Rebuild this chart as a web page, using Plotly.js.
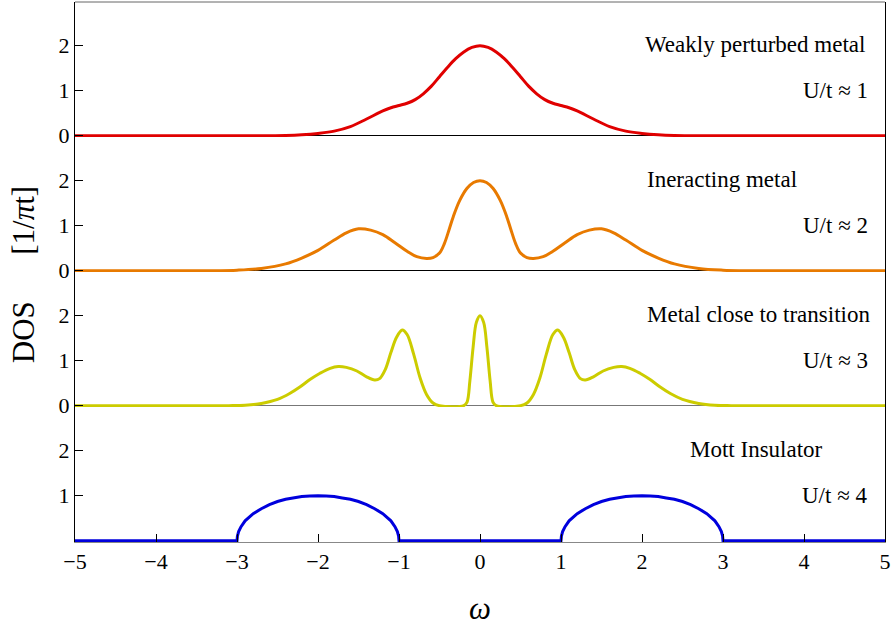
<!DOCTYPE html>
<html>
<head>
<meta charset="utf-8">
<script src="https://cdn.plot.ly/plotly-3.0.1.min.js"></script>
<style>html,body{margin:0;padding:0;background:#fff;}#chart{width:891px;height:626px;}</style>
</head>
<body>
<div id="chart"></div>
<script>
// ---- data ----
const xTicks = [-5, -4, -3, -2, -1, 0, 1, 2, 3, 4, 5];

// U/t ~ 1 : weakly perturbed metal (red)
const omegaRed = [-5, -2.6, -2.4, -2.2, -2.0, -1.8, -1.6, -1.4, -1.2, -1.1, -1.0, -0.9, -0.8, -0.7, -0.6, -0.5, -0.4, -0.3, -0.2, -0.1, 0,
                  0.1, 0.2, 0.3, 0.4, 0.5, 0.6, 0.7, 0.8, 0.9, 1.0, 1.1, 1.2, 1.4, 1.6, 1.8, 2.0, 2.2, 2.4, 2.6, 5];
const dosRed   = [0, 0, 0.005, 0.02, 0.05, 0.1, 0.2, 0.37, 0.55, 0.62, 0.67, 0.72, 0.80, 0.93, 1.1, 1.31, 1.52, 1.71, 1.86, 1.96, 2.0,
                  1.96, 1.86, 1.71, 1.52, 1.31, 1.1, 0.93, 0.80, 0.72, 0.67, 0.62, 0.55, 0.37, 0.2, 0.1, 0.05, 0.02, 0.005, 0, 0];

// U/t ~ 2 : interacting metal (orange)
const omegaOrange = [-5, -3.2, -3.0, -2.7, -2.4, -2.2, -2.0, -1.8, -1.65, -1.5, -1.35, -1.2, -1.05, -0.9, -0.78, -0.66, -0.58, -0.5, -0.44, -0.38, -0.33, -0.25, -0.16, -0.08, 0,
                     0.08, 0.16, 0.25, 0.33, 0.38, 0.44, 0.5, 0.58, 0.66, 0.78, 0.9, 1.05, 1.2, 1.35, 1.5, 1.65, 1.8, 2.0, 2.2, 2.4, 2.7, 3.0, 3.2, 5];
const dosOrange   = [0, 0, 0.01, 0.05, 0.15, 0.28, 0.45, 0.68, 0.84, 0.93, 0.9, 0.8, 0.62, 0.43, 0.31, 0.27, 0.29, 0.39, 0.6, 0.92, 1.2, 1.56, 1.83, 1.96, 2.0,
                     1.96, 1.83, 1.56, 1.2, 0.92, 0.6, 0.39, 0.29, 0.27, 0.31, 0.43, 0.62, 0.8, 0.9, 0.93, 0.84, 0.68, 0.45, 0.28, 0.15, 0.05, 0.01, 0, 0];

// U/t ~ 3 : metal close to transition (yellow)
const omegaYellow = [-5, -3.1, -2.9, -2.7, -2.5, -2.35, -2.22, -2.1, -1.975, -1.85, -1.75, -1.65, -1.52, -1.4, -1.3, -1.24, -1.17, -1.1, -1.03, -0.96, -0.9, -0.82, -0.74, -0.66, -0.58, -0.5, -0.2, -0.16, -0.125, -0.085, -0.045, 0,
                     0.045, 0.085, 0.125, 0.16, 0.2, 0.5, 0.58, 0.66, 0.74, 0.82, 0.9, 0.96, 1.03, 1.1, 1.17, 1.24, 1.3, 1.4, 1.52, 1.65, 1.75, 1.85, 1.975, 2.1, 2.22, 2.35, 2.5, 2.7, 2.9, 3.1, 5];
const dosYellow   = [0, 0, 0.01, 0.05, 0.14, 0.27, 0.42, 0.58, 0.72, 0.83, 0.87, 0.85, 0.77, 0.64, 0.57, 0.6, 0.8, 1.18, 1.52, 1.68, 1.58, 1.15, 0.62, 0.25, 0.06, 0, 0, 0.08, 0.55, 1.3, 1.85, 2.0,
                     1.85, 1.3, 0.55, 0.08, 0, 0, 0.06, 0.25, 0.62, 1.15, 1.58, 1.68, 1.52, 1.18, 0.8, 0.6, 0.57, 0.64, 0.77, 0.85, 0.87, 0.83, 0.72, 0.58, 0.42, 0.27, 0.14, 0.05, 0.01, 0, 0];

// U/t ~ 4 : Mott insulator (blue)
const omegaBlue = [-5, -3, -2.995, -2.98, -2.95, -2.9, -2.8, -2.7, -2.6, -2.5, -2.4, -2.3, -2.2, -2.1, -2,
                   -1.9, -1.8, -1.7, -1.6, -1.5, -1.4, -1.3, -1.2, -1.1, -1.05, -1.02, -1.005, -1,
                   1, 1.005, 1.02, 1.05, 1.1, 1.2, 1.3, 1.4, 1.5, 1.6, 1.7, 1.8, 1.9, 2,
                   2.1, 2.2, 2.3, 2.4, 2.5, 2.6, 2.7, 2.8, 2.9, 2.95, 2.98, 2.995, 3, 5];
const dosBlue   = [0, 0, 0.1, 0.2, 0.31, 0.44, 0.6, 0.71, 0.8, 0.87, 0.92, 0.95, 0.98, 0.99, 1,
                   0.99, 0.98, 0.95, 0.92, 0.87, 0.8, 0.71, 0.6, 0.44, 0.31, 0.2, 0.1, 0,
                   0, 0.1, 0.2, 0.31, 0.44, 0.6, 0.71, 0.8, 0.87, 0.92, 0.95, 0.98, 0.99, 1,
                   0.99, 0.98, 0.95, 0.92, 0.87, 0.8, 0.71, 0.6, 0.44, 0.31, 0.2, 0.1, 0, 0];

const panelTitles = ["Mott Insulator", "Metal close to transition", "Ineracting metal", "Weakly perturbed metal"];
const panelU      = ["U/t \u2248 4", "U/t \u2248 3", "U/t \u2248 2", "U/t \u2248 1"];
const titleX      = [3.41, 3.44, 2.99, 3.395];
const colors      = ["#0000dd", "#cccc00", "#e87a00", "#e00000"];
const yTickSets   = [[1, 2], [0, 1, 2], [0, 1, 2], [0, 1, 2]];
const zeroColors  = ["#888888", "#777777", "#000000", "#000000"];

// ---- figure ----
const FONT = '"Liberation Serif", "Times New Roman", serif';
const series = [[omegaBlue, dosBlue, 'linear'], [omegaYellow, dosYellow, 'spline'],
                [omegaOrange, dosOrange, 'spline'], [omegaRed, dosRed, 'spline']];
const yNames = ['y', 'y2', 'y3', 'y4'];
const axKeys = ['yaxis', 'yaxis2', 'yaxis3', 'yaxis4'];

const traces = series.map((s, i) => ({
  x: s[0], y: s[1], xaxis: 'x', yaxis: yNames[i], type: 'scatter', mode: 'lines',
  line: {color: colors[i], width: 3, shape: s[2], smoothing: 1},
  hoverinfo: 'skip', showlegend: false
}));

const layout = {
  width: 891, height: 626,
  margin: {l: 75, r: 6, t: 2, b: 84},
  paper_bgcolor: '#fff', plot_bgcolor: '#fff',
  font: {family: FONT, color: '#000', size: 20},
  showlegend: false,
  xaxis: {
    range: [-5, 5], anchor: 'y', tickmode: 'array', tickvals: xTicks,
    ticks: 'inside', ticklen: 8, tickcolor: '#000', tickwidth: 1,
    showline: true, linecolor: '#888888', linewidth: 1, mirror: false,
    showgrid: false, zeroline: false, tickfont: {family: FONT, size: 22}
  },
  shapes: [
    {type: 'line', xref: 'paper', yref: 'paper', x0: 0, x1: 1, y0: 1, y1: 1, line: {color: '#666', width: 1}}
  ],
  annotations: []
};

for (let i = 0; i < 4; i++) {
  layout[axKeys[i]] = {
    domain: [i * 0.25, (i + 1) * 0.25], anchor: 'x',
    range: [-0.03, 2.97], tickmode: 'array', tickvals: yTickSets[i],
    ticks: 'inside', ticklen: 8, tickcolor: '#000', tickwidth: 1,
    showline: true, linecolor: '#000', linewidth: 1, mirror: true,
    showgrid: false, zeroline: i > 0, zerolinecolor: zeroColors[i], zerolinewidth: 1,
    tickfont: {family: FONT, size: 22}
  };
  layout.annotations.push({
    text: panelTitles[i], xref: 'x', yref: yNames[i], x: titleX[i], y: 2.02,
    xanchor: 'center', yanchor: 'middle', showarrow: false, font: {family: FONT, size: 23}
  });
  layout.annotations.push({
    text: panelU[i], xref: 'x', yref: yNames[i], x: 4.82, y: 1.0,
    xanchor: 'right', yanchor: 'middle', showarrow: false, font: {family: FONT, size: 23}
  });
}

layout.annotations.push({
  text: 'DOS\u00a0\u00a0\u00a0\u00a0\u00a0\u00a0[1/<i>\u03c0</i>t]', xref: 'paper', yref: 'paper', x: 0, y: 0.494,
  xshift: -52, xanchor: 'center', yanchor: 'middle', textangle: -90, showarrow: false,
  font: {family: FONT, size: 31}
});
layout.annotations.push({
  text: '<i>\u03c9</i>', xref: 'paper', yref: 'paper', x: 0.5, y: -0.124,
  xanchor: 'center', yanchor: 'middle', showarrow: false, font: {family: FONT, size: 31}
});

Plotly.newPlot('chart', traces, layout, {displayModeBar: false, staticPlot: true});
</script>
</body>
</html>
